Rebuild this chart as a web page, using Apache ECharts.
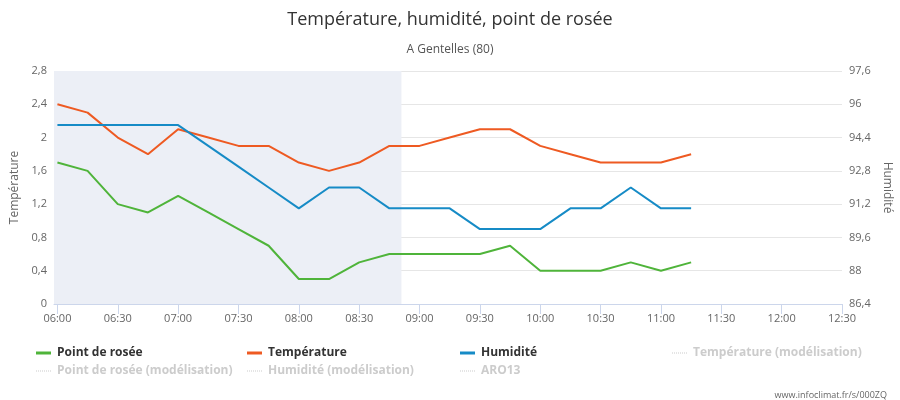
<!DOCTYPE html>
<html><head><meta charset="utf-8">
<script src="https://cdn.jsdelivr.net/npm/echarts@6/dist/echarts.min.js"></script>
<style>html,body{margin:0;padding:0;background:#fff}#c{width:900px;height:400px}</style>
</head><body><div id="c"></div>
<script>
const times = ["06:00","06:15","06:30","06:45","07:00","07:15","07:30","07:45","08:00","08:15","08:30","08:45","09:00","09:15","09:30","09:45","10:00","10:15","10:30","10:45","11:00","11:15"];
const pointRosee = [1.7,1.6,1.2,1.1,1.3,1.1,0.9,0.7,0.3,0.3,0.5,0.6,0.6,0.6,0.6,0.7,0.4,0.4,0.4,0.5,0.4,0.5];
const temperature = [2.4,2.3,2.0,1.8,2.1,2.0,1.9,1.9,1.7,1.6,1.7,1.9,1.9,2.0,2.1,2.1,1.9,1.8,1.7,1.7,1.7,1.8];
const humidite = [95,95,95,95,95,94,93,92,91,92,92,91,91,91,90,90,90,91,91,92,91,91];
const xTickLabels = ["06:00","06:30","07:00","07:30","08:00","08:30","09:00","09:30","10:00","10:30","11:00","11:30","12:00","12:30"];
const legendNames = ['Point de rosée','Température','Humidité','Température (modélisation)','Point de rosée (modélisation)','Humidité (modélisation)','ARO13'];
const shadeEnd = "08:51";
const xStart = "05:58.3";

function toMin(t){const p=t.split(':');return (parseInt(p[0])-6)*60+parseFloat(p[1]);}
function fmtMin(v){const m=Math.round(v)+360;const h=Math.floor(m/60),mm=m%60;return String(h).padStart(2,'0')+':'+String(mm).padStart(2,'0');}
function fmtDec(v){return String(Math.round(v*10)/10).replace('.',',');}

const F = "'Open Sans', 'DejaVu Sans', sans-serif";
const GREEN='#4fb43a', ORANGE='#ee5a22', BLUE='#168bc6';
const xTickVals = xTickLabels.map(toMin);

const solidIcon = 'path://M0,0L15,0L15,3L0,3Z';
let dots='';for(let i=0;i<15;i+=2){dots+='M'+i+',0h1v1h-1z';}
const dottedIcon = 'path://'+dots;
const slots = [[36,347],[247,347],[460,347],[672,347],[36,365],[247,365],[460,365]];
const legends = legendNames.map((n,i)=>{
  const active = i<3;
  return {orient:'horizontal', left:slots[i][0], top:slots[i][1], padding:0, itemWidth:15, itemHeight:active?3:1, itemGap:0,
    inactiveColor:'#ccc', icon: active?solidIcon:dottedIcon, data:[n],
    textStyle:{fontFamily:F,fontSize:12,fontWeight:'bold',color:'#333',padding:[0,0,0,1]},
    selected: active?undefined:{[n]:false}};
});

const chart = echarts.init(document.getElementById('c'));
const mk = (arr)=>times.map((t,i)=>[toMin(t),arr[i]]);
const dotted = {type:'dotted', width:1, color:'#ccc'};
chart.setOption({
  animation:false,
  textStyle:{fontFamily:F},
  title:[
    {text:'Température, humidité, point de rosée', left:'center', top:6, textStyle:{fontFamily:F,fontSize:18,fontWeight:'normal',color:'#333'}},
    {text:'A Gentelles (80)', left:'center', top:39, textStyle:{fontFamily:F,fontSize:12,fontWeight:'normal',color:'#555'}},
    {text:'www.infoclimat.fr/s/000ZQ', right:8, top:386, textStyle:{fontFamily:F,fontSize:9,fontWeight:'normal',color:'#666'}}
  ],
  grid:{left:54, right:58, top:71, bottom:96, containLabel:false, outerBoundsMode:'none'},
  xAxis:{type:'value', min:toMin(xStart), max:toMin("12:30"),
    axisLine:{show:true,lineStyle:{color:'#ccd6eb'}},
    axisTick:{show:true,length:10,lineStyle:{color:'#ccd6eb'},customValues:xTickVals},
    axisLabel:{customValues:xTickVals, formatter:fmtMin, color:'#666', fontSize:11, fontFamily:F, margin:9},
    splitLine:{show:false}},
  yAxis:[
    {type:'value', min:0, max:2.8, interval:0.4, position:'left',
      name:'Température', nameLocation:'middle', nameGap:32, nameTextStyle:{color:'#666',fontSize:12,fontFamily:F},
      axisLine:{show:false}, axisTick:{show:false},
      axisLabel:{formatter:fmtDec, color:'#666', fontSize:11, fontFamily:F, margin:7},
      splitLine:{lineStyle:{color:'#e6e6e6'}}},
    {type:'value', min:86.4, max:97.6, interval:1.6, position:'right',
      name:'Humidité', nameLocation:'middle', nameGap:37, nameRotate:-90, nameTextStyle:{color:'#666',fontSize:12,fontFamily:F},
      axisLine:{show:false}, axisTick:{show:false},
      axisLabel:{formatter:fmtDec, color:'#666', fontSize:11, fontFamily:F, margin:7},
      splitLine:{show:false}}
  ],
  legend:legends,
  series:[
    {name:'Point de rosée', type:'line', yAxisIndex:0, data:mk(pointRosee), symbol:'none', color:GREEN, lineStyle:{width:2,color:GREEN},
      markArea:{silent:true, itemStyle:{color:'#eceff6'}, data:[[{xAxis:toMin(xStart)},{xAxis:toMin(shadeEnd)}]]}, z:3},
    {name:'Température', type:'line', yAxisIndex:0, data:mk(temperature), symbol:'none', color:ORANGE, lineStyle:{width:2,color:ORANGE}, z:3},
    {name:'Humidité', type:'line', yAxisIndex:1, data:mk(humidite), symbol:'none', color:BLUE, lineStyle:{width:2,color:BLUE}, z:3},
    {name:'Température (modélisation)', type:'line', yAxisIndex:0, data:[], symbol:'none', color:'#ccc', lineStyle:dotted},
    {name:'Point de rosée (modélisation)', type:'line', yAxisIndex:0, data:[], symbol:'none', color:'#ccc', lineStyle:dotted},
    {name:'Humidité (modélisation)', type:'line', yAxisIndex:1, data:[], symbol:'none', color:'#ccc', lineStyle:dotted},
    {name:'ARO13', type:'line', yAxisIndex:0, data:[], symbol:'none', color:'#ccc', lineStyle:dotted}
  ]
});
</script></body></html>
